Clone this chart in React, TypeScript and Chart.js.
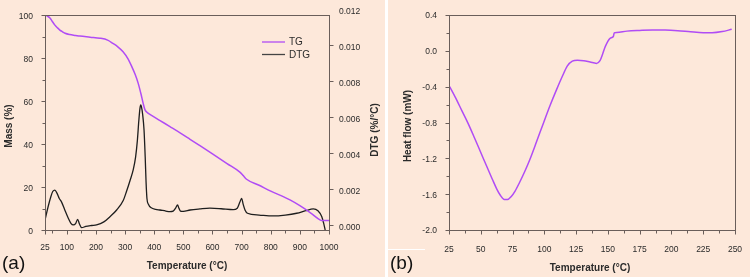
import React, { useEffect, useRef } from 'react';
import { Chart, registerables } from 'chart.js';

Chart.register(...registerables);

// ---------- data ----------
const tgTemp = [25, 32, 42, 50, 59, 68, 76, 85, 94, 110, 130, 145, 180, 214, 240, 258, 275, 293, 310, 323, 335, 345, 355, 362, 368, 374, 385, 420, 454, 490, 523, 557, 600, 650, 694, 705, 717, 760, 800, 866, 900, 940, 969, 975, 1000];
const tgMass = [100, 99.6, 98.6, 97.0, 95.3, 94.0, 93.0, 92.2, 91.5, 90.9, 90.5, 90.2, 89.7, 89.2, 88.3, 86.8, 85.2, 82.9, 79.6, 76.0, 72.2, 68.2, 63.0, 58.9, 56.0, 54.9, 53.8, 50.9, 48.1, 45.1, 42.2, 39.2, 35.4, 30.9, 26.9, 25.4, 23.6, 20.8, 18.1, 14.0, 11.3, 7.6, 4.7, 4.4, 4.4];

const dtgTemp = [25, 35, 45, 52, 59, 66, 74, 82, 92, 105, 114, 122, 130, 137, 143, 151, 165, 185, 202, 227, 248, 271, 294, 305, 317, 328, 336, 342, 347, 351, 353.5, 356, 360, 365, 369, 372, 375, 380, 390, 405, 420, 440, 454, 465, 474, 480, 485, 490, 500, 523, 557, 591, 630, 671, 685, 694, 700, 705, 712, 720, 760, 808, 850, 889, 920, 946, 962, 975, 982, 987];
const dtgValue = [0.0003, 0.001, 0.0016, 0.0019, 0.00197, 0.0018, 0.0015, 0.0013, 0.0009, 0.0004, 0.00012, 0.00003, 0.0001, 0.00034, 0.0001, -0.00012, -0.00005, 0.0, 0.00003, 0.0002, 0.00049, 0.00086, 0.0014, 0.0019, 0.0025, 0.0031, 0.0038, 0.0047, 0.0058, 0.0065, 0.0067, 0.0066, 0.0062, 0.0053, 0.0038, 0.0024, 0.0015, 0.00118, 0.00098, 0.0009, 0.00086, 0.0008, 0.00077, 0.0008, 0.00098, 0.00114, 0.00095, 0.0008, 0.00078, 0.00086, 0.00092, 0.00096, 0.00093, 0.00088, 0.00096, 0.0013, 0.00151, 0.0012, 0.00085, 0.00068, 0.00058, 0.00053, 0.00058, 0.00068, 0.00082, 0.00092, 0.00082, 0.0005, 0.0001, -0.00025];

const hfTemp = [25.5, 30, 35, 40, 45, 50, 55, 59, 62.5, 65.5, 68.5, 71, 74, 77, 80.5, 84.5, 88.7, 94, 99.2, 104.5, 109.7, 114, 118, 122, 126, 131, 136, 141, 143.8, 146, 148, 151.7, 154.3, 155, 157, 165, 175, 185, 195, 205, 215, 225, 232, 240, 247.4];
const hfValue = [-0.40, -0.52, -0.665, -0.81, -0.97, -1.135, -1.30, -1.43, -1.54, -1.615, -1.66, -1.66, -1.625, -1.565, -1.47, -1.35, -1.21, -1.01, -0.81, -0.61, -0.43, -0.29, -0.17, -0.115, -0.105, -0.11, -0.125, -0.14, -0.11, -0.03, 0.05, 0.14, 0.16, 0.20, 0.205, 0.22, 0.228, 0.233, 0.232, 0.225, 0.213, 0.203, 0.202, 0.215, 0.24];

// ---------- ticks ----------
const tgXTicks = [25, 100, 200, 300, 400, 500, 600, 700, 800, 900, 1000];
const tgXMinor = [50, 150, 250, 350, 450, 550, 650, 750, 850, 950];
const massTicks = [0, 20, 40, 60, 80, 100];
const massMinor = [10, 30, 50, 70, 90];
const dtgTicks = [0, 0.002, 0.004, 0.006, 0.008, 0.01, 0.012];
const hfXTicks = [25, 50, 75, 100, 125, 150, 175, 200, 225, 250];
const hfXMinor = [37.5, 62.5, 87.5, 112.5, 137.5, 162.5, 187.5, 212.5, 237.5];
const hfYTicks = [-2.0, -1.6, -1.2, -0.8, -0.4, 0.0, 0.4];
const hfYMinor = [-1.8, -1.4, -1.0, -0.6, -0.2, 0.2];

// ---------- style ----------
const FONT = "'Liberation Sans', Arial, Helvetica, sans-serif";
const BG = '#fde8da';
const AXIS = '#6a5e5a';
const TEXT = '#2b2b2b';
const PURPLE = '#b04cf5';
const DARK = '#1e1e1e';

type TitleSpec = { text: string; x: number; y: number; rot?: boolean };
type TickSpec = { axis: string; side: 'left' | 'right' | 'bottom'; major: number[]; minor: number[] };

function decor(titles: TitleSpec[], ticks: TickSpec[], legend?: { x: number; y: number; items: { label: string; color: string }[] }) {
  return {
    id: 'decor',
    afterDraw(chart: any) {
      const { ctx, chartArea: a, scales } = chart;
      ctx.save();
      ctx.strokeStyle = AXIS;
      ctx.lineWidth = 1;
      const L = Math.round(a.left) + 0.5, R = Math.round(a.right) + 0.5, T = Math.round(a.top) + 0.5, B = Math.round(a.bottom) + 0.5;
      ctx.strokeRect(L, T, R - L, B - T);
      ticks.forEach((t) => {
        const s = scales[t.axis];
        const draw = (v: number, len: number) => {
          const p = Math.round(s.getPixelForValue(v)) + 0.5;
          if (t.side === 'bottom' && (p < L - 0.1 || p > R + 0.1)) return;
          if (t.side !== 'bottom' && (p < T - 0.1 || p > B + 0.1)) return;
          ctx.beginPath();
          if (t.side === 'bottom') { ctx.moveTo(p, B); ctx.lineTo(p, B + len); }
          else if (t.side === 'left') { ctx.moveTo(L, p); ctx.lineTo(L - len, p); }
          else { ctx.moveTo(R, p); ctx.lineTo(R + len, p); }
          ctx.stroke();
        };
        t.major.forEach((v) => draw(v, 4));
        t.minor.forEach((v) => draw(v, 3));
      });
      ctx.fillStyle = TEXT;
      ctx.font = `bold 10px ${FONT}`;
      ctx.textAlign = 'center';
      ctx.textBaseline = 'middle';
      titles.forEach((t) => {
        ctx.save();
        ctx.translate(t.x, t.y);
        if (t.rot) ctx.rotate(-Math.PI / 2);
        ctx.fillText(t.text, 0, 0);
        ctx.restore();
      });
      if (legend) {
        ctx.font = `10px ${FONT}`;
        ctx.textAlign = 'left';
        legend.items.forEach((it, i) => {
          const y = legend.y + i * 12.5;
          ctx.strokeStyle = it.color;
          ctx.lineWidth = 1.3;
          ctx.beginPath();
          ctx.moveTo(legend.x, y);
          ctx.lineTo(legend.x + 23, y);
          ctx.stroke();
          ctx.fillStyle = TEXT;
          ctx.fillText(it.label, legend.x + 27, y + 0.5);
        });
      }
      ctx.restore();
    },
  };
}

const tickFont = { size: 8.5, family: FONT };

function fixW(w: number) {
  return (s: any) => { s.width = w; s.paddingTop = 0; s.paddingBottom = 0; s.paddingLeft = 0; s.paddingRight = 0; };
}
function fixH(h: number) {
  return (s: any) => { s.height = h; s.paddingTop = 0; s.paddingBottom = 0; s.paddingLeft = 0; s.paddingRight = 0; };
}

function pts(xs: number[], ys: number[]) {
  return xs.map((x, i) => ({ x, y: ys[i] }));
}

function ChartA() {
  const ref = useRef<HTMLCanvasElement>(null);
  useEffect(() => {
    const chart = new Chart(ref.current!, {
      type: 'line',
      data: {
        datasets: [
          { label: 'TG', data: pts(tgTemp, tgMass), yAxisID: 'y', borderColor: PURPLE, borderWidth: 1.5, pointRadius: 0, tension: 0.4, cubicInterpolationMode: 'monotone' },
          { label: 'DTG', data: pts(dtgTemp, dtgValue), yAxisID: 'y1', borderColor: DARK, borderWidth: 1.3, pointRadius: 0, tension: 0.4, cubicInterpolationMode: 'monotone' },
        ],
      },
      options: {
        animation: false,
        responsive: false,
        maintainAspectRatio: false,
        layout: { padding: { top: 15, left: 0, right: 0, bottom: 0 } },
        plugins: { legend: { display: false }, tooltip: { enabled: false } },
        scales: {
          x: {
            type: 'linear', min: 25, max: 1000,
            afterFit: fixH(47),
            afterBuildTicks: (s: any) => { s.ticks = tgXTicks.map((v) => ({ value: v })); },
            grid: { display: false, drawTicks: false }, border: { display: false },
            ticks: { padding: 13, font: tickFont, color: TEXT, maxRotation: 0, autoSkip: false, callback: (v: any) => String(v) },
          },
          y: {
            type: 'linear', position: 'left', min: 0, max: 100,
            afterFit: fixW(45),
            afterBuildTicks: (s: any) => { s.ticks = massTicks.map((v) => ({ value: v })); },
            grid: { display: false, drawTicks: false }, border: { display: false },
            ticks: { padding: 12, labelOffset: 2, font: tickFont, color: TEXT, callback: (v: any) => String(v) },
          },
          y1: {
            type: 'linear', position: 'right', min: -0.00025, max: 0.01169,
            afterFit: fixW(56),
            afterBuildTicks: (s: any) => { s.ticks = dtgTicks.map((v) => ({ value: v })); },
            grid: { display: false, drawTicks: false }, border: { display: false },
            ticks: { padding: 10, labelOffset: 2, font: tickFont, color: TEXT, callback: (v: any) => Number(v).toFixed(3) },
          },
        },
      } as any,
      plugins: [decor(
        [
          { text: 'Mass (%)', x: 9, y: 126, rot: true },
          { text: 'Temperature (°C)', x: 187, y: 266 },
          { text: 'DTG (%/°C)', x: 375, y: 130, rot: true },
        ],
        [
          { axis: 'x', side: 'bottom', major: tgXTicks, minor: tgXMinor },
          { axis: 'y', side: 'left', major: massTicks, minor: massMinor },
          { axis: 'y1', side: 'right', major: dtgTicks, minor: [] },
        ],
        { x: 262, y: 42, items: [{ label: 'TG', color: PURPLE }, { label: 'DTG', color: '#444' }] },
      ) as any],
    });
    return () => chart.destroy();
  }, []);
  return <canvas ref={ref} width={385} height={277} style={{ width: 385, height: 277, display: 'block' }} />;
}

function ChartB() {
  const ref = useRef<HTMLCanvasElement>(null);
  useEffect(() => {
    const chart = new Chart(ref.current!, {
      type: 'line',
      data: {
        datasets: [
          { label: 'Heat flow', data: pts(hfTemp, hfValue), borderColor: PURPLE, borderWidth: 1.5, pointRadius: 0, tension: 0.4, cubicInterpolationMode: 'monotone' },
        ],
      },
      options: {
        animation: false,
        responsive: false,
        maintainAspectRatio: false,
        layout: { padding: { top: 15, left: 0, right: 15, bottom: 0 } },
        plugins: { legend: { display: false }, tooltip: { enabled: false } },
        scales: {
          x: {
            type: 'linear', min: 25, max: 250,
            afterFit: fixH(47),
            afterBuildTicks: (s: any) => { s.ticks = hfXTicks.map((v) => ({ value: v })); },
            grid: { display: false, drawTicks: false }, border: { display: false },
            ticks: { padding: 15, font: tickFont, color: TEXT, maxRotation: 0, autoSkip: false, callback: (v: any) => String(v) },
          },
          y: {
            type: 'linear', position: 'left', min: -2.0, max: 0.4,
            afterFit: fixW(61),
            afterBuildTicks: (s: any) => { s.ticks = hfYTicks.map((v) => ({ value: v })); },
            grid: { display: false, drawTicks: false }, border: { display: false },
            ticks: { padding: 12, labelOffset: 1, font: tickFont, color: TEXT, callback: (v: any) => Number(v).toFixed(1) },
          },
        },
      } as any,
      plugins: [decor(
        [
          { text: 'Heat flow (mW)', x: 20, y: 126, rot: true },
          { text: 'Temperature (°C)', x: 202, y: 268 },
        ],
        [
          { axis: 'x', side: 'bottom', major: hfXTicks, minor: hfXMinor },
          { axis: 'y', side: 'left', major: hfYTicks, minor: hfYMinor },
        ],
      ) as any],
    });
    return () => chart.destroy();
  }, []);
  return <canvas ref={ref} width={362} height={277} style={{ width: 362, height: 277, display: 'block' }} />;
}

export default function App() {
  return (
    <div style={{ position: 'absolute', left: 0, top: 0, width: 750, height: 277, background: '#ffffff', overflow: 'hidden' }}>
      <div style={{ position: 'absolute', left: 0, top: 0, width: 385, height: 277, background: BG }}>
        <ChartA />
      </div>
      <div style={{ position: 'absolute', left: 388, top: 0, width: 362, height: 277, background: BG }}>
        <ChartB />
      </div>
      <div style={{ position: 'absolute', left: 2, top: 252, fontFamily: FONT, fontSize: 19, color: '#111', lineHeight: '22px' }}>(a)</div>
      <div style={{ position: 'absolute', left: 388, top: 249, width: 37, height: 28, borderTop: '1px solid #ffffff', boxSizing: 'border-box' }} />
      <div style={{ position: 'absolute', left: 390, top: 252, fontFamily: FONT, fontSize: 19, color: '#111', lineHeight: '22px' }}>(b)</div>
    </div>
  );
}
